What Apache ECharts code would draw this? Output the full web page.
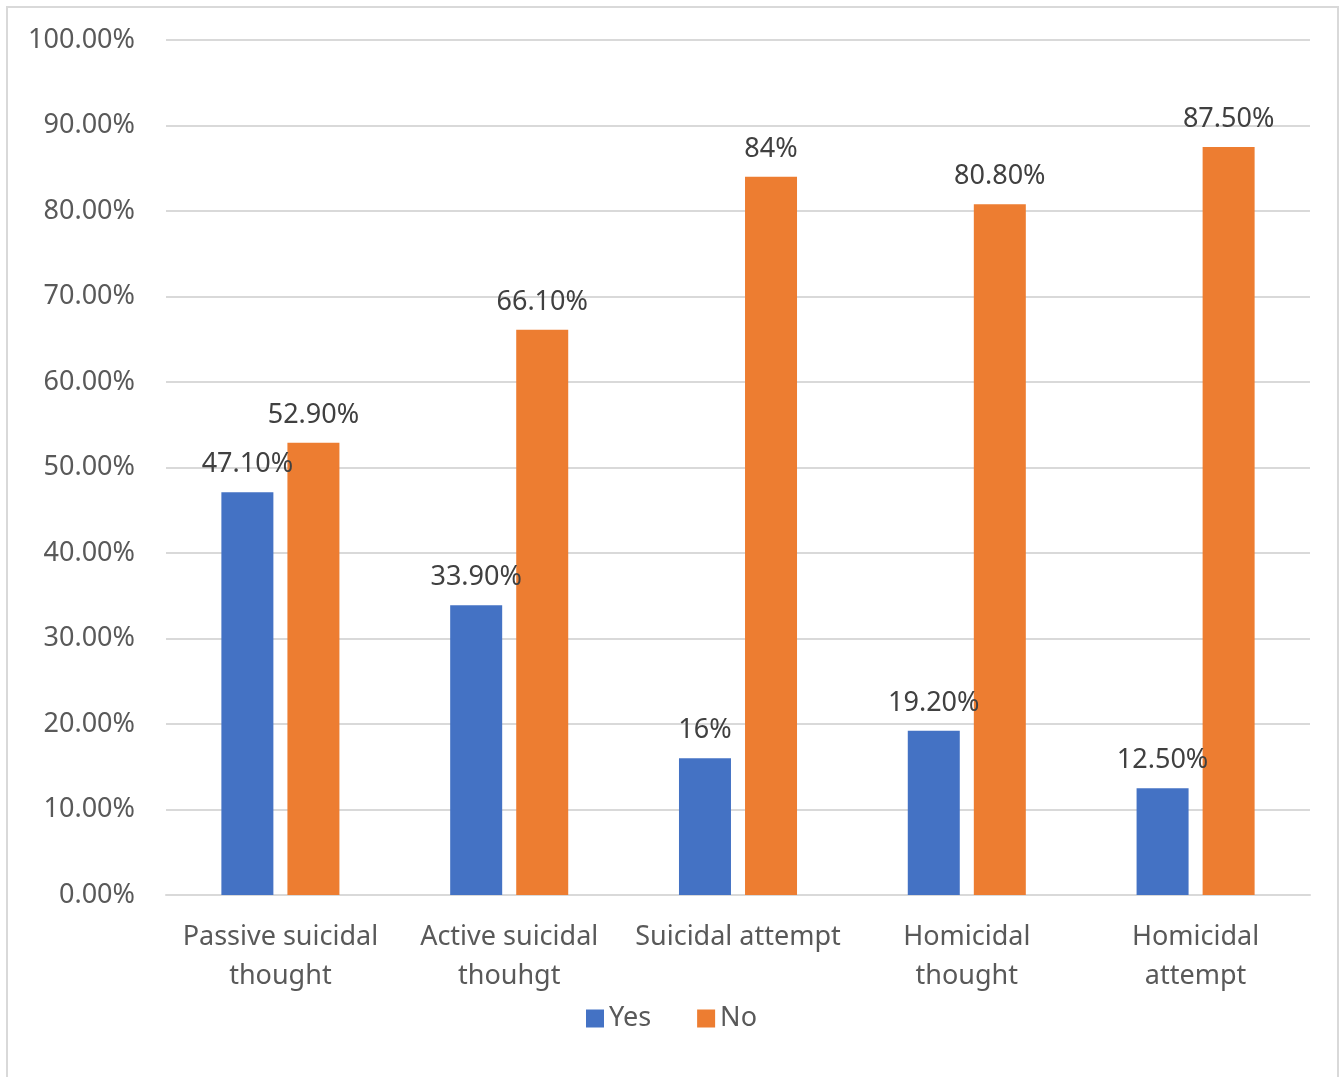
<!DOCTYPE html>
<html>
<head>
<meta charset="utf-8">
<script src="https://cdn.jsdelivr.net/npm/echarts@6/dist/echarts.min.js"></script>
<style>
  html, body { margin: 0; padding: 0; background: #fff; }
  #chart { width: 1343px; height: 1077px; }
</style>
</head>
<body>
<div id="chart"></div>
<script>
// values
const categories = ['Passive suicidal\nthought', 'Active suicidal\nthouhgt', 'Suicidal attempt', 'Homicidal\nthought', 'Homicidal\nattempt'];
const yesValues = [47.1, 33.9, 16, 19.2, 12.5];
const noValues = [52.9, 66.1, 84, 80.8, 87.5];
const yesLabels = ['47.10%', '33.90%', '16%', '19.20%', '12.50%'];
const noLabels = ['52.90%', '66.10%', '84%', '80.80%', '87.50%'];

const font = 'Noto Sans';
const chart = echarts.init(document.getElementById('chart'));

chart.setOption({
    backgroundColor: '#fff',
    animation: false,
    textStyle: { fontFamily: font },
    graphic: [{
        type: 'rect',
        shape: { x: 7, y: 7, width: 1331, height: 1090 },
        style: { fill: 'none', stroke: '#d9d9d9', lineWidth: 2 }
    }],
    grid: { left: 166, right: 33, top: 40, bottom: 182 },
    legend: {
        bottom: 40,
        left: 'center',
        icon: 'rect',
        itemWidth: 18,
        itemHeight: 18,
        itemGap: 46,
        textStyle: { fontFamily: font, fontSize: 27, color: '#595959' },
        data: ['Yes', 'No']
    },
    xAxis: {
        type: 'category',
        data: categories,
        axisLine: { lineStyle: { color: '#d9d9d9', width: 2 } },
        axisTick: { length: 10, lineStyle: { color: '#d9d9d9', width: 2 } },
        axisLabel: {
            interval: 0,
            margin: 23,
            fontFamily: font,
            fontSize: 27,
            lineHeight: 39,
            color: '#595959'
        }
    },
    yAxis: {
        type: 'value',
        min: 0,
        max: 100,
        interval: 10,
        axisLine: { show: false },
        axisTick: { show: false },
        splitLine: { lineStyle: { color: '#d9d9d9', width: 2 } },
        axisLabel: {
            margin: 31,
            fontFamily: font,
            fontSize: 27,
            color: '#595959',
            formatter: v => v.toFixed(2) + '%'
        }
    },
    series: [
        {
            name: 'Yes',
            type: 'bar',
            data: yesValues,
            barWidth: 52,
            barGap: '27%',
            itemStyle: { color: '#4472c4' },
            label: {
                show: true,
                position: 'top',
                distance: 14,
                fontFamily: font,
                fontSize: 27,
                color: '#404040',
                formatter: p => yesLabels[p.dataIndex]
            }
        },
        {
            name: 'No',
            type: 'bar',
            data: noValues,
            barWidth: 52,
            itemStyle: { color: '#ed7d31' },
            label: {
                show: true,
                position: 'top',
                distance: 14,
                fontFamily: font,
                fontSize: 27,
                color: '#404040',
                formatter: p => noLabels[p.dataIndex]
            }
        }
    ]
});
</script>
</body>
</html>
